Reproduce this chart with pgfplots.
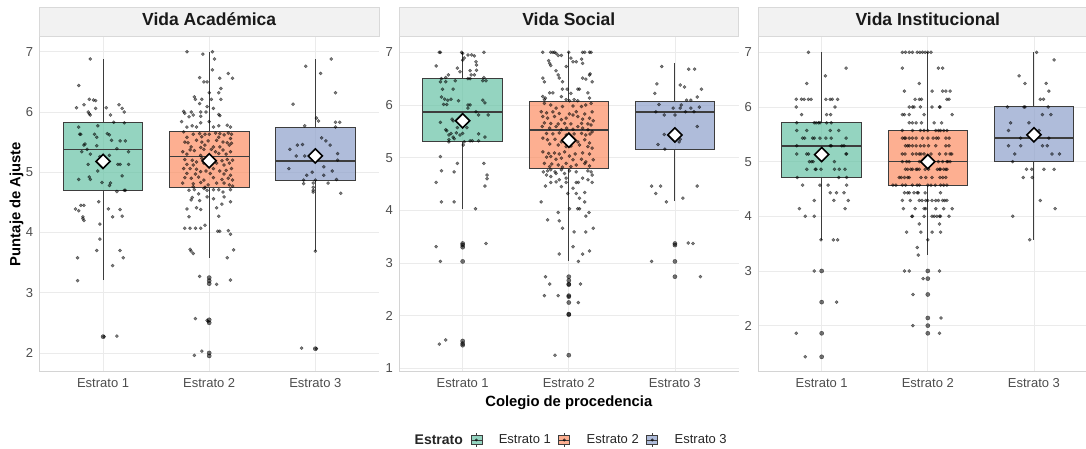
\documentclass[border=0pt]{standalone}
\usepackage{pgfplots}
\pgfplotsset{compat=1.18}
\usepgfplotslibrary{statistics}
\usepackage{fontspec}
\setmainfont{Liberation Sans}

\definecolor{s2green}{HTML}{66C2A5}
\definecolor{s2orange}{HTML}{FC8D62}
\definecolor{s2blue}{HTML}{8DA0CB}
\definecolor{gridgray}{HTML}{EBEBEB}
\definecolor{axisgray}{HTML}{D4D4D4}
\definecolor{stripfill}{HTML}{F2F2F2}
\definecolor{stripdraw}{HTML}{D9D9D9}
\definecolor{tickgray}{HTML}{4D4D4D}
\definecolor{boxline}{HTML}{3D3D3D}

\newcommand\tsz{\fontsize{13}{15}\selectfont}

\pgfplotsset{
  every axis title shift=0pt,
  panel/.style={
    scale only axis, width=339.6pt, height=334pt, anchor=south west,
    xmin=0.4, xmax=3.6, xtick={1,2,3},
    xticklabels={Estrato 1,Estrato 2,Estrato 3},
    axis line style={draw=none},
    xmajorgrids, ymajorgrids,
    major grid style={draw=gridgray, line width=0.7pt},
    major tick length=0pt, tick style={draw=none},
    tick label style={font=\tsz, text=tickgray, inner sep=0pt},
    xticklabel style={anchor=north, yshift=-7pt},
    yticklabel style={anchor=east, xshift=-6pt},
    /pgf/number format/assume math mode=true,
    title style={at={(0.5,1)}, anchor=south, yshift=0pt, fill=stripfill, draw=stripdraw,
      line width=0.7pt, minimum width=339.6pt, minimum height=29pt, inner sep=0pt,
      text height=12.5pt, text depth=6pt,
      font=\bfseries\fontsize{17.5}{20}\selectfont, text=black!90},
    after end axis/.code={\draw[axisgray, line width=0.7pt]
      (rel axis cs:0,1) -- (rel axis cs:0,0) -- (rel axis cs:1,0);},
    boxplot/draw direction=y,
    boxplot/every median/.style={line width=1.6pt},
  },
  bstyle/.style={fill=#1, fill opacity=0.7, draw=boxline, line width=1pt},
  pts/.style={only marks, mark=*, mark size=1.6pt,
    mark options={draw=none, fill=black, opacity=0.5}},
  outl/.style={only marks, mark=*, mark size=2.1pt,
    mark options={draw=none, fill=black, opacity=0.55}},
  meanpt/.style={only marks, mark=square*, mark size=5pt,
    mark options={rotate=45, fill=white, draw=black, line width=1.6pt}},
  legkey/.style={legend image code/.code={
    \draw[boxline, line width=0.6pt] (5.5pt,4.5pt) -- (5.5pt,7pt) (5.5pt,-4.5pt) -- (5.5pt,-7pt);
    \draw[boxline, line width=0.6pt, fill=#1, fill opacity=0.7] (0pt,-4.5pt) rectangle (11pt,4.5pt);
    \draw[boxline, line width=0.9pt] (0pt,0pt) -- (11pt,0pt);
    \fill[black, opacity=0.6] (5.5pt,0pt) circle (1.3pt);
  }},
}

\begin{document}
\begin{tikzpicture}

% ---------------- Vida Academica ----------------
\begin{axis}[panel, at={(39.4pt,77pt)},
    ymin=1.70, ymax=7.245, ytick={2,...,7},
    title={Vida Académica},
    ylabel={Puntaje de Ajuste},
    ylabel style={at={(axis description cs:-0.0674,0.5)}, anchor=center,
      font=\bfseries\fontsize{14.8}{17}\selectfont, text=black}]
\addplot[bstyle=s2green, boxplot prepared={draw position=1, box extend=0.75, whisker extend=0,
  lower whisker=3.21, lower quartile=4.70, median=5.38, upper quartile=5.82, upper whisker=6.88}] coordinates {};
\addplot[bstyle=s2orange, boxplot prepared={draw position=2, box extend=0.75, whisker extend=0,
  lower whisker=3.58, lower quartile=4.75, median=5.26, upper quartile=5.68, upper whisker=7.00}] coordinates {};
\addplot[bstyle=s2blue, boxplot prepared={draw position=3, box extend=0.75, whisker extend=0,
  lower whisker=3.69, lower quartile=4.87, median=5.19, upper quartile=5.74, upper whisker=6.88}] coordinates {};
\addplot[outl] coordinates {(1,2.27)(2,3.25)(2,3.20)(2,3.15)(2,2.55)(2,2.50)(2,2.00)(2,1.95)(3,2.07)};
\addplot[pts] coordinates {
(0.88,6.88)(0.77,6.44)(0.75,6.07)(0.82,6.12)(0.87,6.21)(0.91,6.20)(0.93,6.19)(0.86,6.00)(0.88,5.95)(0.87,5.97)
(0.93,6.06)(1.03,6.07)(1.07,5.95)(1.15,6.12)(1.18,6.06)(1.20,6.00)(1.10,5.83)(1.20,5.82)(0.95,5.77)(0.77,5.75)
(0.78,5.63)(0.79,5.63)(0.92,5.63)(0.94,5.58)(1.04,5.64)(1.06,5.62)(1.08,5.53)(1.16,5.52)(1.21,5.52)(0.82,5.45)
(0.83,5.47)(0.94,5.44)(0.80,5.34)(0.85,5.38)(1.13,5.39)(1.24,5.34)(0.88,5.30)(0.97,5.26)(1.06,5.28)(0.86,5.13)
(0.97,5.13)(1.14,5.13)(1.16,5.13)(1.24,5.13)(0.95,5.02)(0.87,4.92)(1.18,4.94)(0.77,4.88)(0.88,4.88)(0.99,4.83)
(1.07,4.82)(1.06,4.78)(1.13,4.68)(1.20,4.70)(1.21,4.70)(0.74,4.39)(0.77,4.36)(0.79,4.45)(0.82,4.45)(0.81,4.26)
(0.81,4.23)(0.82,4.20)(0.96,4.51)(1.05,4.39)(1.16,4.38)(1.09,4.26)(1.18,4.27)(0.97,4.14)(0.97,3.89)(0.94,3.70)
(1.16,3.70)(0.76,3.58)(1.19,3.58)(1.09,3.45)(0.76,3.20)(1.13,2.28)(1.01,2.27)
};
\addplot[pts] coordinates {
(1.79,7.00)(1.94,6.96)(2.03,7.00)(2.05,6.88)(2.03,6.70)(1.91,6.57)(1.95,6.50)(1.98,6.50)(2.10,6.56)(2.18,6.64)
(2.22,6.56)(2.00,6.32)(2.11,6.39)(2.09,6.32)(1.86,6.25)(1.87,6.21)(1.93,6.21)(2.02,6.21)(2.11,6.21)(1.91,6.14)
(1.98,6.09)(1.76,6.01)(1.77,5.98)(1.83,6.00)(1.92,6.00)(1.97,6.00)(2.04,6.06)(1.85,5.95)(1.81,5.92)(1.92,5.93)
(2.09,5.96)(2.10,5.94)(2.00,5.84)(1.74,5.84)(1.92,5.82)(1.79,5.75)(1.84,5.77)(1.88,5.75)(2.04,5.75)(2.09,5.77)
(2.17,5.78)(2.20,5.75)
(1.76,5.67)(1.85,5.63)(1.91,5.64)(1.96,5.63)(2.00,5.63)(2.06,5.65)(2.10,5.64)(2.14,5.62)(2.18,5.65)(2.21,5.63)
(1.79,5.58)(1.93,5.59)(2.09,5.58)(2.20,5.56)
(1.77,5.50)(1.80,5.49)(1.88,5.53)(1.93,5.50)(1.99,5.52)(2.07,5.53)(2.13,5.50)(2.17,5.49)(2.21,5.48)(1.83,5.42)
(1.92,5.41)(1.96,5.45)(2.04,5.42)(2.10,5.42)(2.19,5.45)
(1.75,5.34)(1.82,5.37)(1.86,5.36)(1.95,5.38)(2.02,5.38)(2.06,5.34)(2.13,5.37)(2.20,5.34)(1.79,5.30)(1.92,5.28)
(1.99,5.27)(2.09,5.31)(2.16,5.30)
(1.77,5.21)(1.84,5.20)(1.88,5.17)(1.93,5.23)(2.04,5.21)(2.12,5.19)(2.17,5.21)(2.22,5.20)(1.79,5.13)(1.85,5.12)
(1.95,5.15)(2.00,5.13)(2.07,5.15)(2.14,5.12)(2.19,5.15)
(1.76,5.06)(1.82,5.06)(1.88,5.05)(1.92,5.01)(1.97,5.02)(2.04,5.06)(2.10,5.02)(2.16,5.03)(2.21,5.06)(1.79,4.98)
(1.87,4.97)(2.01,4.98)(2.14,4.97)(2.20,4.95)
(1.77,4.91)(1.83,4.90)(1.90,4.92)(1.95,4.87)(2.04,4.91)(2.12,4.88)(2.18,4.90)(2.22,4.87)(1.75,4.82)(1.85,4.81)
(1.92,4.83)(1.99,4.79)(2.07,4.82)(2.14,4.82)(2.19,4.79)(2.22,4.77)(1.85,4.76)(1.96,4.75)
(1.81,4.70)(1.86,4.71)(1.95,4.73)(1.98,4.70)(2.04,4.71)(2.09,4.71)(2.13,4.67)(2.20,4.71)(1.84,4.58)(1.83,4.54)
(1.90,4.64)(1.91,4.53)(1.98,4.59)(2.04,4.56)(2.14,4.59)(2.20,4.51)(1.88,4.41)(1.92,4.38)(2.07,4.41)(2.12,4.47)
(1.79,4.39)(1.81,4.26)(2.09,4.27)
(1.77,4.07)(1.82,4.07)(1.87,4.07)(1.92,4.07)(1.96,4.12)(2.08,4.02)(2.10,4.02)(2.18,4.03)(2.20,3.97)(1.82,3.72)
(1.83,3.69)(1.85,3.65)(2.23,3.71)(2.17,3.58)
(1.91,3.27)(2.07,3.14)(2.20,3.21)(1.87,2.57)(1.93,2.03)(1.86,1.96)(1.98,2.54)(1.99,2.52)
};
\addplot[pts] coordinates {
(2.91,6.76)(3.15,6.88)(3.05,6.64)(3.19,6.32)(2.79,6.13)(3.01,5.90)(3.03,5.85)(2.90,5.77)(3.19,5.75)(3.23,5.83)
(3.19,5.83)(3.06,5.57)(3.10,5.52)(3.14,5.45)(2.88,5.46)(2.83,5.45)(2.76,5.38)(2.82,5.27)(2.90,5.27)(2.98,5.22)
(3.21,5.31)(3.21,5.20)(2.75,5.06)(2.97,5.00)(3.08,5.09)(2.92,4.95)(3.08,4.95)(3.16,5.02)(2.89,4.87)(3.00,4.87)
(3.20,4.88)(2.89,4.81)(2.98,4.82)(3.12,4.82)(2.98,4.75)(2.98,4.70)(2.98,4.67)(3.24,4.65)(3.00,3.69)(2.87,2.08)
(3.01,2.07)
};
\addplot[meanpt] coordinates {(1,5.18)(2,5.19)(3,5.27)};
\end{axis}

% ---------------- Vida Social ----------------
\begin{axis}[panel, at={(399pt,77pt)},
    ymin=0.95, ymax=7.29, ytick={1,...,7},
    title={Vida Social},
    xlabel={Colegio de procedencia},
    xlabel style={at={(axis description cs:0.5,-0.1048)}, anchor=base,
      font=\bfseries\fontsize{14.8}{17}\selectfont, text=black},
    legend columns=4, legend cell align=left,
    legend style={at={(-0.003,-0.2066)}, anchor=west, draw=none, fill=none,
      inner sep=0pt, nodes={inner sep=0.5pt},
      font=\fontsize{13}{15}\selectfont, text=black!85,
      /tikz/every odd column/.append style={column sep=16pt},
      /tikz/every even column/.append style={column sep=7pt}}]
\addlegendimage{empty legend}
\addlegendentry{{\bfseries\fontsize{14}{16}\selectfont Estrato}}
\addlegendimage{legkey=s2green}
\addlegendentry{Estrato 1}
\addlegendimage{legkey=s2orange}
\addlegendentry{Estrato 2}
\addlegendimage{legkey=s2blue}
\addlegendentry{Estrato 3}
\addplot[bstyle=s2green, boxplot prepared={draw position=1, box extend=0.75, whisker extend=0,
  lower whisker=4.03, lower quartile=5.30, median=5.87, upper quartile=6.50, upper whisker=7.00}] coordinates {};
\addplot[bstyle=s2orange, boxplot prepared={draw position=2, box extend=0.75, whisker extend=0,
  lower whisker=3.03, lower quartile=4.80, median=5.52, upper quartile=6.07, upper whisker=7.00}] coordinates {};
\addplot[bstyle=s2blue, boxplot prepared={draw position=3, box extend=0.75, whisker extend=0,
  lower whisker=4.17, lower quartile=5.15, median=5.87, upper quartile=6.07, upper whisker=6.80}] coordinates {};
\addplot[outl] coordinates {(1,3.37)(1,3.34)(1,3.30)(1,3.03)(1,1.52)(1,1.47)(1,1.44)
(2,2.74)(2,2.67)(2,2.60)(2,2.59)(2,2.38)(2,2.36)(2,2.25)(2,2.03)(2,2.02)(2,1.25)
(3,3.37)(3,3.34)(3,3.03)(3,2.74)};
\addplot[pts] coordinates {
(0.78,7.00)(0.79,7.00)(0.99,7.00)(1.00,6.98)(1.20,7.00)(1.05,6.95)(1.085,6.95)(1.11,6.93)(1.015,6.89)(1.00,6.85)
(1.125,6.82)(1.13,6.76)(0.75,6.74)(0.95,6.70)(0.975,6.63)(1.07,6.65)(1.13,6.66)(0.865,6.57)(1.08,6.57)(1.11,6.57)
(0.80,6.50)(0.84,6.52)(1.05,6.50)(1.07,6.50)(1.20,6.52)(1.22,6.46)(1.19,6.46)(0.93,6.46)(0.79,6.44)(0.84,6.44)
(0.81,6.30)(0.91,6.30)(0.80,6.15)(0.83,6.11)(0.86,6.09)(0.89,6.11)(0.96,6.08)(1.19,6.09)(1.21,6.04)(1.05,6.00)
(1.07,6.00)(0.82,6.01)(0.85,6.01)(1.125,5.87)(1.05,5.94)(1.24,5.81)(1.15,5.81)(0.90,5.73)(0.91,5.70)(0.79,5.67)
(0.975,5.67)(1.04,5.57)(0.95,5.57)(0.84,5.53)(0.85,5.51)(0.94,5.47)(1.00,5.46)(0.89,5.46)(0.87,5.43)(0.975,5.43)
(1.15,5.45)(1.21,5.39)(0.91,5.39)(0.92,5.36)(0.87,5.34)(0.87,5.30)(1.07,5.32)(1.09,5.32)(1.15,5.32)(1.015,5.30)
(1.006,5.24)(0.79,5.02)(0.95,4.89)(1.20,4.89)(0.80,4.75)(0.92,4.73)(1.23,4.67)(1.23,4.60)(0.75,4.53)(1.21,4.46)
(0.80,4.16)(0.92,4.16)(1.12,4.03)(0.75,3.31)(1.22,3.37)(0.79,3.03)(0.78,1.46)(0.84,1.54)
};
\addplot[pts] coordinates {
(1.755,7.00)(1.83,7.00)(1.85,7.00)(1.865,7.00)(1.88,6.98)(2.00,7.00)(2.13,7.00)(2.15,7.00)(2.195,7.00)(2.21,7.00)
(1.81,6.84)(1.82,6.79)(1.83,6.75)(1.90,6.94)(1.93,6.94)(2.02,6.89)(2.04,6.82)(2.07,6.82)(2.12,6.87)(2.13,6.79)
(1.975,6.73)(1.88,6.65)(1.90,6.57)(1.755,6.51)(1.77,6.44)(1.91,6.51)(1.94,6.44)(2.13,6.51)(2.195,6.57)(2.20,6.59)
(2.16,6.49)(2.22,6.44)(1.82,6.23)(1.85,6.23)(1.94,6.30)(1.985,6.30)(2.085,6.30)(2.10,6.30)(2.18,6.23)(2.02,6.22)
(1.755,6.16)(1.78,6.13)(1.77,6.10)(1.93,6.16)(1.975,6.10)(2.006,6.08)(2.05,6.10)(2.085,6.08)(2.195,6.13)
(1.77,6.03)(1.83,6.00)(1.88,5.94)(1.94,5.97)(2.04,5.98)(2.12,5.97)(2.16,6.00)(2.21,6.03)(1.74,5.87)(1.79,5.85)
(1.85,5.87)(1.91,5.84)(2.006,5.83)(2.07,5.87)(2.15,5.83)(2.22,5.87)
(1.755,5.78)(1.80,5.75)(1.865,5.78)(1.93,5.72)(1.975,5.75)(2.04,5.81)(2.085,5.78)(2.13,5.73)(2.195,5.75)(2.23,5.70)
(1.77,5.66)(1.83,5.65)(1.90,5.64)(1.96,5.65)(2.02,5.64)(2.12,5.65)(2.18,5.64)(2.21,5.62)
(1.75,5.59)(1.82,5.56)(1.88,5.59)(1.93,5.53)(1.98,5.56)(2.04,5.54)(2.085,5.59)(2.13,5.56)(2.18,5.53)(2.22,5.49)
(1.79,5.46)(1.85,5.45)(1.91,5.47)(1.975,5.43)(2.05,5.45)(2.12,5.46)(2.16,5.43)(2.20,5.45)
(1.755,5.37)(1.80,5.34)(1.87,5.35)(1.93,5.30)(2.04,5.35)(2.085,5.30)(2.15,5.34)(2.195,5.28)(1.82,5.26)(1.90,5.24)
(1.975,5.21)(2.02,5.22)(2.10,5.24)(2.18,5.21)(2.22,5.18)
(1.755,5.11)(1.81,5.08)(1.865,5.09)(1.91,5.07)(1.96,5.11)(2.006,5.03)(2.06,5.07)(2.13,5.09)(2.195,5.07)(1.79,5.01)
(1.83,5.02)(1.88,4.97)(1.93,4.99)(2.04,4.96)(2.12,4.97)(2.16,4.92)(2.23,4.96)(1.77,4.89)(1.84,4.88)(1.90,4.86)
(1.975,4.89)(2.07,4.86)(2.15,4.89)(2.195,4.84)(1.82,4.83)(1.94,4.82)(2.02,4.83)
(1.76,4.73)(1.80,4.75)(1.83,4.77)(1.87,4.73)(1.93,4.77)(1.96,4.70)(2.006,4.75)(2.07,4.73)(2.18,4.75)(2.21,4.73)
(1.79,4.67)(1.83,4.64)(1.88,4.70)(1.91,4.58)(1.975,4.61)(2.13,4.61)(2.22,4.67)
(1.83,4.53)(1.88,4.54)(1.975,4.53)(2.07,4.53)(2.09,4.53)(2.22,4.53)(2.18,4.58)(1.78,4.46)(1.93,4.45)(2.04,4.42)
(2.07,4.32)(2.15,4.34)(1.99,4.32)(1.74,4.16)(2.15,4.16)(2.10,4.23)
(2.006,4.03)(2.085,4.03)(2.10,4.03)(2.19,3.96)(2.16,3.89)(1.90,3.96)(1.80,3.82)(1.91,3.80)(1.94,3.66)(2.05,3.59)
(2.16,3.59)(2.23,3.66)(2.04,3.31)(1.91,3.17)(2.13,3.17)(2.195,3.23)(2.09,3.03)
(1.78,2.74)(1.82,2.60)(2.11,2.60)(1.77,2.38)(1.90,2.38)(2.09,2.25)(1.87,1.25)
};
\addplot[pts] coordinates {
(2.875,6.73)(3.185,6.68)(3.13,6.68)(2.83,6.40)(2.81,6.22)(3.05,6.38)(3.09,6.34)(3.25,6.30)(3.21,6.15)(3.15,6.09)
(3.11,6.09)(2.85,6.01)(2.984,5.94)(3.05,5.94)(3.06,6.00)(3.15,5.94)(3.23,5.96)(2.82,5.87)(2.90,5.81)(3.00,5.81)
(3.10,5.87)(3.18,5.87)(3.21,5.59)(2.90,5.44)(3.00,5.43)(3.05,5.35)(3.04,5.30)(2.84,5.25)(2.905,5.16)(2.78,4.46)
(2.865,4.46)(2.82,4.32)(2.92,4.16)(3.075,4.23)(3.21,4.46)(3.125,3.38)(3.17,3.37)(2.78,3.03)(3.24,2.74)
};
\addplot[meanpt] coordinates {(1,5.70)(2,5.33)(3,5.43)};
\end{axis}

% ---------------- Vida Institucional ----------------
\begin{axis}[panel, at={(758pt,77pt)},
    ymin=1.17, ymax=7.28, ytick={2,...,7},
    title={Vida Institucional}]
\addplot[bstyle=s2green, boxplot prepared={draw position=1, box extend=0.75, whisker extend=0,
  lower whisker=3.57, lower quartile=4.71, median=5.29, upper quartile=5.71, upper whisker=7.00}] coordinates {};
\addplot[bstyle=s2orange, boxplot prepared={draw position=2, box extend=0.75, whisker extend=0,
  lower whisker=3.29, lower quartile=4.57, median=5.00, upper quartile=5.57, upper whisker=7.00}] coordinates {};
\addplot[bstyle=s2blue, boxplot prepared={draw position=3, box extend=0.75, whisker extend=0,
  lower whisker=3.57, lower quartile=5.00, median=5.43, upper quartile=6.00, upper whisker=7.00}] coordinates {};
\addplot[outl] coordinates {(1,3.00)(1,2.43)(1,1.86)(1,1.43)
(2,3.00)(2,2.86)(2,2.57)(2,2.14)(2,2.00)(2,1.86)};
\addplot[pts] coordinates {
(0.875,7.00)(1.23,6.71)(1.035,6.57)(0.86,6.43)(0.76,6.14)(0.81,6.14)(0.835,6.14)(0.875,6.14)(0.90,6.14)(1.04,6.14)
(1.08,6.14)(1.10,6.14)(1.15,6.14)(0.76,6.00)(1.125,6.00)(0.81,5.86)(1.047,5.86)(1.085,5.86)
(0.765,5.71)(0.93,5.71)(0.947,5.71)(0.97,5.71)(0.984,5.71)(1.047,5.71)(1.09,5.71)
(0.765,5.57)(0.86,5.57)(1.08,5.57)(1.16,5.57)
(0.82,5.43)(0.84,5.43)(0.915,5.43)(0.93,5.43)(0.984,5.43)(1.04,5.43)(1.09,5.43)(1.23,5.43)
(0.765,5.29)(1.08,5.29)(1.09,5.29)(1.19,5.29)(1.21,5.29)
(0.765,5.14)(0.86,5.14)(0.875,5.14)(1.23,5.14)(1.235,5.14)
(0.885,5.00)(0.905,5.00)(0.92,5.00)(1.12,5.00)
(0.86,4.86)(0.94,4.86)(0.947,4.86)(0.994,4.86)(1.12,4.86)(1.165,4.86)(1.22,4.86)
(0.77,4.71)(1.16,4.71)(1.235,4.71)(0.82,4.57)(0.984,4.57)(1.06,4.57)(1.235,4.57)
(1.08,4.43)(1.14,4.43)(1.21,4.43)(0.93,4.29)(1.115,4.29)(1.25,4.29)(0.79,4.14)(1.22,4.14)
(0.845,4.00)(0.93,4.00)(1.11,3.57)(1.15,3.57)(0.994,3.57)
(0.93,3.00)(1.14,2.43)(0.76,1.86)(0.845,1.43)
};
\addplot[pts] coordinates {
(1.76,7.00)(1.79,7.00)(1.825,7.00)(1.855,7.00)(1.90,7.00)(1.925,7.00)(1.95,7.00)(1.975,7.00)(2.00,7.00)(2.03,7.00)
(1.76,6.71)(1.92,6.43)(2.10,6.71)(2.14,6.71)(1.78,6.29)(2.04,6.29)(2.14,6.29)(2.17,6.29)(2.21,6.29)
(1.88,6.14)(1.92,6.14)(1.94,6.14)(2.18,6.14)(2.20,6.14)
(1.825,6.00)(1.855,6.00)(1.87,6.00)(1.93,6.00)(2.04,6.00)(2.11,6.00)(2.115,6.00)
(1.76,5.86)(1.78,5.86)(1.825,5.86)(1.965,5.86)(2.23,5.86)
(1.825,5.71)(1.855,5.71)(1.89,5.71)(1.94,5.71)(2.06,5.71)(2.13,5.71)
(1.76,5.57)(1.855,5.57)(1.93,5.57)(1.965,5.57)(2.00,5.57)(2.075,5.57)(2.10,5.57)(2.12,5.57)(2.15,5.57)(2.18,5.57)
(1.76,5.43)(1.78,5.43)(1.79,5.43)(1.825,5.43)(1.855,5.43)(1.89,5.43)(1.95,5.43)(2.00,5.43)(2.05,5.43)(2.08,5.43)
(2.10,5.43)(2.17,5.43)(2.20,5.43)
(1.79,5.29)(1.81,5.29)(1.825,5.29)(1.855,5.29)(1.89,5.29)(1.93,5.29)(1.965,5.29)(2.006,5.29)(2.075,5.29)(2.17,5.29)
(2.20,5.29)
(1.76,5.14)(1.785,5.14)(1.855,5.14)(1.89,5.14)(1.92,5.14)(1.935,5.14)(1.965,5.14)(2.03,5.14)(2.11,5.14)(2.17,5.14)
(2.21,5.14)(2.225,5.14)
(1.76,5.00)(1.80,5.00)(1.825,5.00)(1.92,5.00)(1.945,5.00)(2.01,5.00)(2.10,5.00)(2.14,5.00)(2.18,5.00)(2.19,5.00)
(2.21,5.00)
(1.79,4.86)(1.81,4.86)(1.84,4.86)(1.855,4.86)(1.89,4.86)(1.90,4.86)(1.92,4.86)(1.975,4.86)(2.006,4.86)(2.09,4.86)
(2.11,4.86)(2.12,4.86)(2.15,4.86)(2.17,4.86)(2.18,4.86)
(1.73,4.71)(1.75,4.71)(1.78,4.71)(1.81,4.71)(1.825,4.71)(1.935,4.71)(1.98,4.71)(2.04,4.71)(2.115,4.71)(2.14,4.71)
(2.17,4.71)
(1.67,4.57)(1.70,4.57)(1.76,4.57)(1.79,4.57)(1.855,4.57)(1.90,4.57)(1.92,4.57)(2.00,4.57)(2.03,4.57)(2.07,4.57)
(2.12,4.57)(2.15,4.57)(2.18,4.57)
(1.78,4.43)(1.81,4.43)(1.825,4.43)(1.87,4.43)(1.90,4.43)(1.91,4.43)(1.975,4.43)(2.12,4.43)
(1.76,4.29)(1.835,4.29)(1.92,4.29)(1.945,4.29)(1.98,4.29)(2.00,4.29)(2.04,4.29)(2.075,4.29)(2.10,4.29)(2.14,4.29)
(2.16,4.29)(2.18,4.29)
(1.77,4.14)(1.88,4.14)(1.965,4.14)(1.98,4.14)(2.075,4.14)(2.15,4.14)(2.23,4.14)
(1.85,4.00)(1.855,4.00)(1.965,4.00)(2.04,4.00)(2.06,4.00)(2.085,4.00)(2.11,4.00)(2.12,4.00)(2.20,4.00)
(1.92,3.86)(2.11,3.86)(1.80,3.71)(1.935,3.71)(2.04,3.71)(2.12,3.71)(2.00,3.57)(1.90,3.43)(1.91,3.29)
(1.78,3.00)(1.825,3.00)(2.11,3.00)(1.955,2.86)(1.86,2.57)(1.86,2.00)(2.125,2.14)(2.11,1.86)
};
\addplot[pts] coordinates {
(3.025,7.00)(3.19,6.86)(2.86,6.57)(2.915,6.43)(3.115,6.43)(3.14,6.29)(3.06,6.14)(3.09,6.14)(2.75,6.00)(2.906,6.00)
(2.915,6.00)(3.134,6.00)(3.08,5.86)(3.16,5.86)(2.78,5.71)(2.953,5.71)(2.76,5.57)(3.047,5.57)(2.875,5.43)(3.14,5.43)
(2.76,5.29)(2.875,5.29)(3.08,5.29)(3.125,5.29)(2.82,5.14)(3.17,5.14)(3.24,5.14)(2.80,5.00)(2.93,4.86)(2.98,4.86)
(3.094,4.86)(3.19,4.86)(2.90,4.71)(2.984,4.71)(3.06,4.29)(3.20,4.14)(2.80,4.00)(2.96,3.57)
};
\addplot[meanpt] coordinates {(1,5.13)(2,5.00)(3,5.49)};
\end{axis}

\pgfresetboundingbox
\path[use as bounding box] (0pt,0pt) rectangle (1086pt,448pt);
\end{tikzpicture}
\end{document}
